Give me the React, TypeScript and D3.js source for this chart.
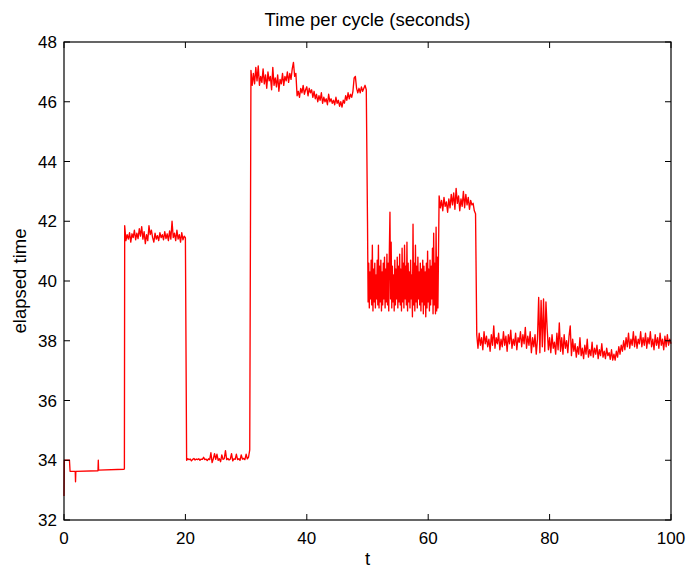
import React from "react";
import * as d3 from "d3";

// ---- data ----
const title = "Time per cycle (seconds)";
const xLabel = "t";
const yLabel = "elapsed time";
const xTicks = [0, 20, 40, 60, 80, 100];
const yTicks = [32, 34, 36, 38, 40, 42, 44, 46, 48];

// segment 1: explicit [t, value] points (0 – 10)
const seg1Points: [number, number][] = [
  [0, 32.8], [0.05, 34.0], [0.9, 34.0], [1.0, 33.63], [1.85, 33.63], [1.9, 33.28],
  [1.95, 33.63], [5.6, 33.65], [5.65, 34.0], [5.7, 33.67], [9.9, 33.7], [9.95, 33.72],
];

// segment 2: t = 10.0 .. 20.0, step 0.2
const seg2Start = 10.0, seg2Step = 0.2;
const seg2Values = [
  41.85, 41.35, 41.55, 41.40, 41.62, 41.30, 41.58, 41.45, 41.70, 41.38,
  41.60, 41.42, 41.75, 41.50, 41.82, 41.40, 41.65, 41.25, 41.55, 41.35,
  41.85, 41.55, 41.70, 41.45, 41.30, 41.60, 41.40, 41.52, 41.35, 41.62,
  41.45, 41.55, 41.38, 41.65, 41.42, 41.58, 41.35, 41.68, 41.40, 42.00,
  41.45, 41.60, 41.35, 41.70, 41.40, 41.55, 41.30, 41.62, 41.38, 41.50, 41.45,
];

// segment 3: t = 20.2 .. 30.6, step 0.2
const seg3Start = 20.2, seg3Step = 0.2;
const seg3Values = [
  34.00, 34.05, 34.02, 34.04, 33.98, 34.03, 34.06, 34.01, 34.04, 34.02,
  34.05, 34.00, 34.04, 34.03, 34.10, 34.02, 34.04, 33.99, 34.05, 34.02,
  34.25, 33.92, 34.05, 34.22, 34.03, 34.20, 34.00, 34.05, 33.95, 34.18,
  34.03, 34.05, 34.32, 34.02, 34.06, 34.01, 34.04, 34.22, 33.98, 34.05,
  34.03, 34.20, 34.02, 34.05, 34.00, 34.18, 34.04, 34.06, 34.02, 34.20,
  34.05, 34.10, 34.35,
];

// segment 4: t = 30.8 .. 49.8, step 0.2
const seg4Start = 30.8, seg4Step = 0.2;
const seg4Values = [
  47.05, 46.55, 46.95, 46.60, 47.15, 46.70, 47.20, 46.55, 46.85, 46.65,
  47.10, 46.60, 46.90, 46.45, 47.00, 46.70, 46.85, 46.40, 47.15, 46.55,
  46.80, 46.50, 46.90, 46.35, 46.75, 46.60, 46.95, 46.55, 46.85, 46.70,
  47.00, 46.65, 46.95, 46.75, 47.10, 47.32, 46.85, 46.95, 46.20, 46.35,
  46.15, 46.45, 46.30, 46.55, 46.25, 46.40, 46.50, 46.20, 46.45, 46.30,
  46.40, 46.15, 46.35, 46.10, 46.25, 46.00, 46.20, 46.05, 46.30, 45.95,
  46.15, 46.00, 46.10, 45.90, 46.25, 46.00, 46.10, 45.95, 46.05, 45.90,
  46.15, 45.95, 46.05, 45.85, 46.00, 45.82, 46.05, 45.95, 46.20, 46.05,
  46.30, 46.10, 46.25, 46.15, 46.35, 46.80, 46.85, 46.45, 46.30, 46.45,
  46.30, 46.50, 46.35, 46.45, 46.55, 46.40,
];

// segment 5: t = 50.0 .. 61.6, step 0.1
const seg5Start = 50.0, seg5Step = 0.1;
const seg5Values = [
  42.0, 39.3, 40.6, 39.1, 40.3, 39.4, 40.7, 39.2, 41.2, 39.0,
  40.4, 39.3, 40.6, 39.1, 40.2, 39.4, 40.7, 39.2, 41.2, 39.1,
  40.5, 39.3, 40.7, 39.0, 40.3, 39.2, 40.6, 39.4, 40.8, 39.1,
  40.4, 39.3, 40.9, 39.2, 40.6, 39.0, 41.0, 42.3, 39.4, 41.3,
  39.1, 40.5, 39.3, 40.2, 39.0, 40.7, 39.2, 40.4, 39.4, 40.8,
  39.1, 40.5, 39.3, 40.9, 39.2, 40.4, 39.0, 41.1, 39.3, 40.6,
  39.1, 41.2, 39.4, 40.5, 39.2, 41.3, 39.0, 40.6, 39.3, 40.3,
  39.1, 40.7, 39.4, 40.2, 38.8, 41.9, 39.2, 40.6, 39.0, 41.2,
  39.3, 40.5, 39.1, 40.8, 39.4, 40.3, 39.2, 40.6, 39.0, 40.4,
  39.3, 40.7, 38.9, 40.5, 39.2, 40.3, 38.8, 40.6, 39.1, 41.0,
  39.3, 40.4, 39.0, 40.7, 39.2, 40.5, 39.4, 41.1, 38.9, 41.6,
  39.2, 40.6, 38.9, 41.8, 39.0, 40.8, 39.1,
];

// segment 6: t = 61.8 .. 67.8, step 0.2
const seg6Start = 61.8, seg6Step = 0.2;
const seg6Values = [
  42.85, 42.45, 42.70, 42.35, 42.80, 42.50, 42.65, 42.30, 42.75, 42.45,
  42.90, 42.55, 42.95, 42.40, 43.10, 42.60, 42.85, 42.35, 42.75, 42.50,
  43.00, 42.45, 42.90, 42.55, 42.80, 42.40, 42.70, 42.55, 42.60, 42.35, 42.25,
];

// segment 7: t = 68.0 .. 100.0, step 0.2
const seg7Start = 68.0, seg7Step = 0.2;
const seg7Values = [
  38.20, 37.75, 38.25, 37.85, 38.10, 37.70, 38.30, 37.90, 38.15, 37.80, 38.05,
  37.65, 38.20, 37.85, 38.50, 37.75, 38.10, 37.90, 38.25, 37.70, 38.05,
  37.80, 38.30, 37.85, 38.15, 37.65, 38.20, 37.90, 38.35, 37.75, 38.05,
  37.85, 38.25, 37.70, 38.10, 37.95, 38.30, 37.80, 38.20, 37.90, 38.45,
  37.75, 38.15, 37.85, 38.30, 37.60, 38.10, 37.80, 38.20, 37.55, 38.05,
  39.45, 37.60, 39.35, 37.80, 39.40, 37.65, 39.30, 38.40, 37.70, 38.10,
  37.60, 38.20, 37.75, 37.95, 37.55, 38.25, 37.70, 38.60, 37.65, 38.10,
  37.55, 38.20, 37.75, 38.00, 37.60, 38.15, 38.50, 37.50, 38.05, 37.65,
  37.90, 37.45, 37.80, 37.55, 38.10, 37.50, 37.75, 37.40, 37.85, 37.55,
  38.05, 37.45, 37.70, 37.50, 37.95, 37.45, 37.75, 37.55, 37.85, 37.40,
  37.70, 37.50, 37.90, 37.45, 37.65, 37.40, 37.75, 37.50, 37.60, 37.38,
  37.70, 37.35, 37.55, 37.35, 37.65, 37.45, 37.80, 37.55, 37.85, 37.65,
  38.00, 37.70, 38.10, 37.80, 38.25, 37.75, 38.05, 37.85, 38.30, 37.80,
  38.15, 37.75, 38.05, 37.90, 38.30, 37.80, 38.10, 37.85, 38.25, 37.75,
  38.10, 37.90, 38.30, 37.80, 38.05, 37.70, 38.20, 37.85, 38.10, 37.75,
  38.25, 37.85, 38.05, 37.70, 38.15, 37.80, 38.20, 37.85, 38.05, 37.90,
];

function stepped(start: number, step: number, values: number[]): [number, number][] {
  return values.map((v, i) => [+(start + i * step).toFixed(3), v]);
}

const series: [number, number][] = [
  ...seg1Points,
  ...stepped(seg2Start, seg2Step, seg2Values),
  ...stepped(seg3Start, seg3Step, seg3Values),
  ...stepped(seg4Start, seg4Step, seg4Values),
  ...stepped(seg5Start, seg5Step, seg5Values),
  ...stepped(seg6Start, seg6Step, seg6Values),
  ...stepped(seg7Start, seg7Step, seg7Values),
];

// ---- layout ----
const W = 688, H = 568;
const M = { left: 64, right: 17, top: 42, bottom: 48 };
const FONT = "'Liberation Sans', Arial, Helvetica, sans-serif";
const FS = 17;
const FS_LABEL = 18.5;
const TICK = 6;

export default function App() {
  const x = d3.scaleLinear().domain([0, 100]).range([M.left, W - M.right]);
  const y = d3.scaleLinear().domain([32, 48]).range([H - M.bottom, M.top]);
  const line = d3.line<[number, number]>().x((d) => x(d[0])).y((d) => y(d[1]));
  const x0 = x.range()[0], x1 = x.range()[1];
  const y0 = y.range()[0], y1 = y.range()[1];

  return (
    <svg
      width={W}
      height={H}
      style={{ position: "absolute", left: 0, top: 0, background: "#fff" }}
      fontFamily={FONT}
    >
      <rect x={0} y={0} width={W} height={H} fill="#fff" />
      <path
        d={line(series) || ""}
        fill="none"
        stroke="#ff0000"
        strokeWidth={1.35}
        strokeLinejoin="round"
      />
      {/* axes box */}
      <rect x={x0} y={y1} width={x1 - x0} height={y0 - y1} fill="none" stroke="#000" strokeWidth={1.2} />
      {xTicks.map((t) => (
        <g key={"xt" + t}>
          <line x1={x(t)} x2={x(t)} y1={y0} y2={y0 - TICK} stroke="#000" />
          <line x1={x(t)} x2={x(t)} y1={y1} y2={y1 + TICK} stroke="#000" />
          <text x={x(t)} y={y0 + 24} fontSize={FS} textAnchor="middle" fill="#000">
            {t}
          </text>
        </g>
      ))}
      {yTicks.map((t) => (
        <g key={"yt" + t}>
          <line x1={x0} x2={x0 + TICK} y1={y(t)} y2={y(t)} stroke="#000" />
          <line x1={x1} x2={x1 - TICK} y1={y(t)} y2={y(t)} stroke="#000" />
          <text x={x0 - 7} y={y(t) + 6} fontSize={FS} textAnchor="end" fill="#000">
            {t}
          </text>
        </g>
      ))}
      <text x={(x0 + x1) / 2} y={26} fontSize={FS_LABEL} textAnchor="middle" fill="#000">
        {title}
      </text>
      <text x={(x0 + x1) / 2} y={y0 + 45} fontSize={FS_LABEL} textAnchor="middle" fill="#000">
        {xLabel}
      </text>
      <text
        transform={`translate(${26},${(y0 + y1) / 2}) rotate(-90)`}
        fontSize={FS_LABEL}
        textAnchor="middle"
        fill="#000"
      >
        {yLabel}
      </text>
    </svg>
  );
}
